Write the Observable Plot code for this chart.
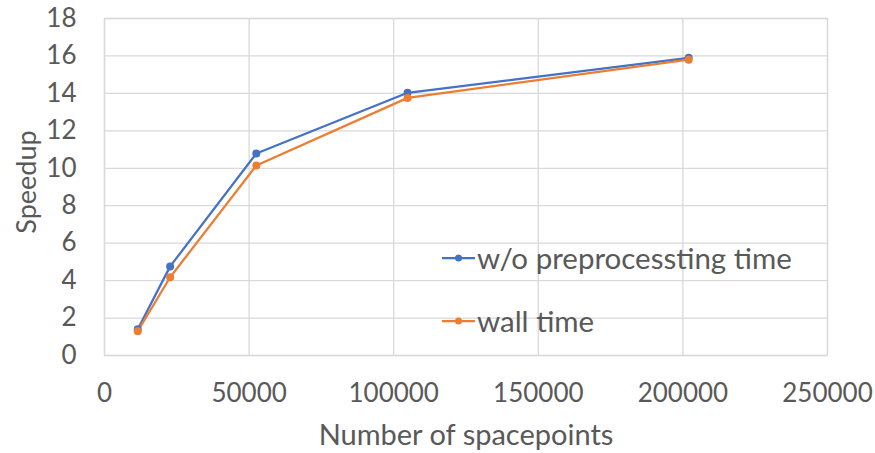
<!DOCTYPE html>
<html>
<head>
<meta charset="utf-8">
<script src="https://cdn.jsdelivr.net/npm/d3@7"></script>
<script src="https://cdn.jsdelivr.net/npm/@observablehq/plot@0.6"></script>
<style>
  html, body { margin: 0; padding: 0; background: #fff; }
  #wrap { position: relative; width: 875px; height: 453px; font-family: Lato, "Open Sans", sans-serif; }
  #legend { position: absolute; left: 442px; top: 226px; color: #595959; font-size: 29.5px; line-height: 63px; }
  #legend div { display: flex; align-items: center; white-space: nowrap; height: 63px; }
  #legend svg { margin-right: 2px; }
</style>
</head>
<body>
<div id="wrap"></div>
<script>
const points = [11500, 22700, 52500, 104800, 202000];
const woPre = [1.4, 4.76, 10.79, 14.03, 15.9];
const wall = [1.3, 4.18, 10.15, 13.76, 15.8];
const seriesNames = ["w/o preprocessting time", "wall time"];
const seriesColors = ["#4472C4", "#ED7D31"];
const xTicks = [0, 50000, 100000, 150000, 200000, 250000];
const yTicks = [0, 2, 4, 6, 8, 10, 12, 14, 16, 18];

const data = [];
[woPre, wall].forEach((vals, s) => vals.forEach((v, i) => data.push({series: seriesNames[s], x: points[i], y: v})));

const tickColor = "#595959";
const chart = Plot.plot({
  width: 875,
  height: 453,
  marginLeft: 104,
  marginRight: 48,
  marginTop: 18,
  marginBottom: 98,
  style: {fontFamily: "Lato, 'Open Sans', sans-serif", background: "#fff"},
  x: {domain: [0, 250000]},
  y: {domain: [0, 18]},
  color: {domain: seriesNames, range: seriesColors},
  marks: [
    Plot.gridY(yTicks, {stroke: "#d9d9d9", strokeOpacity: 1, strokeWidth: 1.3}),
    Plot.gridX(xTicks, {stroke: "#d9d9d9", strokeOpacity: 1, strokeWidth: 1.3}),
    Plot.frame({stroke: "#d9d9d9", strokeWidth: 1.3}),
    Plot.axisY(yTicks, {tickSize: 0, tickPadding: 28, fontSize: 26, fill: tickColor, label: null}),
    Plot.axisX(xTicks, {tickSize: 0, tickPadding: 28, fontSize: 26, fill: tickColor, label: null, tickFormat: d => String(d)}),
    Plot.text(["Speedup"], {frameAnchor: "left", dx: -77, dy: -5, rotate: -90, textAnchor: "middle", lineAnchor: "middle", fontSize: 27, fill: tickColor}),
    Plot.text(["Number of spacepoints"], {frameAnchor: "bottom", dy: 80, lineAnchor: "middle", textAnchor: "middle", fontSize: 29, fill: tickColor}),
    Plot.line(data, {x: "x", y: "y", stroke: "series", z: "series", strokeWidth: 2.25}),
    Plot.dot(data, {x: "x", y: "y", fill: "series", r: 4})
  ]
});
const wrap = document.getElementById("wrap");
wrap.appendChild(chart);

const legend = document.createElement("div");
legend.id = "legend";
seriesNames.forEach((name, i) => {
  const row = document.createElement("div");
  row.innerHTML = `<svg width="33" height="10"><line x1="0" y1="5" x2="33" y2="5" stroke="${seriesColors[i]}" stroke-width="2.25"/><circle cx="16.5" cy="5" r="3.5" fill="${seriesColors[i]}"/></svg><span>${name}</span>`;
  legend.appendChild(row);
});
wrap.appendChild(legend);
</script>
</body>
</html>
